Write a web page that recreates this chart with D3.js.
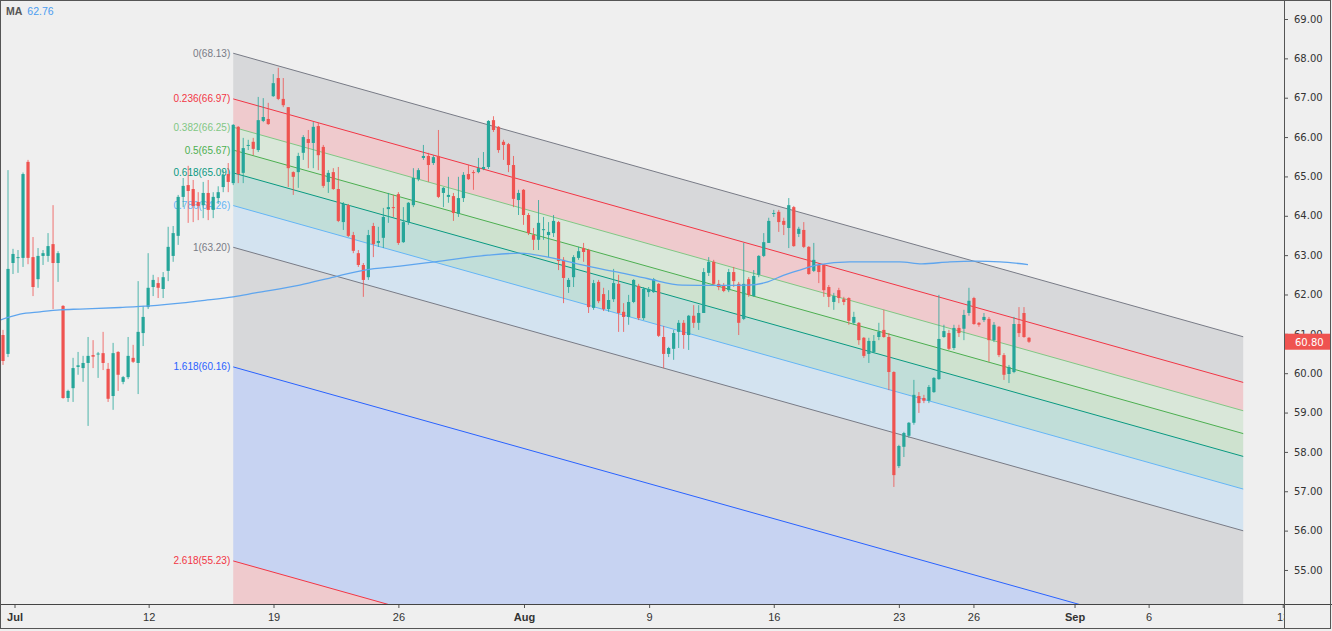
<!DOCTYPE html>
<html><head><meta charset="utf-8">
<script src="https://cdn.jsdelivr.net/npm/d3@7"></script>
<style>html,body{margin:0;padding:0;background:#efefef;overflow:hidden}</style>
</head><body><svg id="c" width="1332" height="631"></svg>
<script>
// ---------- DATA ----------
const opens = [
60.97,60.49,62.80,62.93,62.93,65.37,62.95,62.39,62.98,62.98,
63.28,62.80,61.71,59.37,59.62,60.16,60.13,60.26,60.46,60.48,
60.51,60.11,59.42,60.54,59.78,59.90,60.39,60.26,61.02,61.68,
62.19,62.29,62.14,62.60,62.98,63.49,64.48,64.78,64.68,64.35,
64.27,64.58,64.15,64.45,64.73,65.06,64.83,66.26,65.09,65.78,
65.88,65.67,66.41,66.46,67.04,67.50,66.97,66.76,65.11,65.11,
65.60,65.95,65.85,66.28,65.75,64.86,65.11,64.68,63.84,64.27,
63.51,63.05,62.75,62.44,63.74,63.31,63.44,64.17,64.22,64.55,
63.33,63.84,64.27,64.93,65.47,65.52,65.34,65.52,64.58,64.48,
64.50,64.05,64.45,65.06,65.11,65.11,65.19,65.24,66.43,66.26,
65.88,65.82,65.29,64.40,64.66,64.02,63.51,63.39,63.64,63.51,
63.56,63.84,62.88,62.19,62.44,62.93,63.18,63.13,61.66,62.32,
62.01,61.63,61.88,62.27,61.56,61.43,61.81,62.22,61.40,62.06,
62.06,62.27,60.92,60.49,60.62,61.05,61.28,60.97,61.46,61.28,
61.53,62.55,62.83,62.27,62.22,62.11,62.57,62.27,61.38,62.39,
61.96,62.50,62.98,63.31,64.05,64.10,63.87,63.69,64.22,63.54,
63.64,63.21,62.60,62.75,62.75,62.19,61.81,62.11,61.88,61.91,
61.28,61.28,60.90,60.49,60.54,60.92,61.10,60.92,60.03,57.64,
58.13,58.41,58.74,59.42,59.37,59.30,59.52,59.85,60.92,61.02,
60.64,61.15,61.13,61.53,61.91,61.28,61.35,61.38,60.84,61.18,
60.46,59.98,60.03,61.25,61.53,60.90];
const highs = [
61.10,65.16,63.16,63.13,65.10,65.42,63.46,63.18,63.13,63.56,
64.27,63.10,61.73,59.58,60.39,60.54,60.44,60.92,60.84,60.54,
61.05,60.26,60.77,60.56,59.93,60.92,60.72,62.34,61.71,63.05,
62.50,62.44,62.57,63.72,63.74,64.53,64.96,65.27,64.91,64.60,
64.86,64.91,64.60,64.75,65.16,65.34,66.33,66.28,65.98,65.93,
65.98,67.02,66.99,66.87,67.60,67.76,67.50,66.76,65.13,65.60,
66.05,66.18,66.38,66.36,65.80,65.16,65.21,65.24,64.35,64.30,
63.59,63.13,62.80,63.64,63.82,63.72,64.20,64.58,64.53,64.60,
64.22,64.35,65.21,65.21,65.80,65.60,65.54,66.18,64.73,64.99,
64.58,64.99,65.11,65.29,65.16,65.47,65.62,66.43,66.53,66.28,
65.93,65.85,65.52,64.66,64.68,64.07,63.69,64.40,63.97,63.84,
64.02,63.87,62.95,62.42,63.00,63.21,63.31,63.16,62.37,62.37,
62.17,62.11,62.65,62.50,61.78,61.99,62.39,62.27,62.19,62.19,
62.42,62.29,61.20,60.67,61.10,61.35,61.35,61.48,61.73,61.73,
62.67,62.95,62.88,62.37,62.29,62.65,62.70,62.32,63.31,62.44,
62.62,63.00,63.56,63.95,64.15,64.15,63.95,64.45,64.25,63.72,
63.84,63.23,63.31,62.80,62.77,62.24,62.04,62.17,61.94,61.93,
61.56,61.30,60.92,60.90,60.97,61.28,61.61,61.02,60.05,58.18,
58.51,58.76,59.83,59.52,59.45,59.70,59.90,61.99,61.23,61.10,
61.23,61.23,61.61,62.17,61.94,61.30,61.53,61.43,61.30,61.20,
60.51,60.21,61.43,61.68,61.68,60.92];
const lows = [
60.21,60.41,62.52,62.55,62.70,62.77,61.96,62.17,62.75,62.83,
61.63,62.32,59.35,59.27,59.27,59.96,59.78,58.66,60.13,59.88,
60.08,59.27,59.07,59.55,59.72,59.85,60.26,59.47,60.69,61.63,
61.96,61.91,61.91,62.34,62.83,63.26,64.22,63.82,63.84,63.89,
63.94,63.89,63.94,64.30,64.60,64.60,64.78,64.83,64.83,65.67,
65.54,65.62,66.38,66.31,67.02,66.94,66.76,64.73,64.53,64.71,
65.42,65.21,65.21,65.16,64.71,64.58,64.66,63.84,63.64,63.46,
63.05,62.70,61.94,62.37,62.95,63.21,63.18,63.82,63.97,63.26,
63.31,63.77,64.22,64.88,65.42,64.86,65.29,64.45,64.22,64.33,
63.87,63.97,64.35,64.91,64.66,65.08,65.16,65.19,66.13,65.60,
65.42,65.11,64.22,64.02,63.77,63.51,63.13,63.13,63.39,62.95,
63.46,62.62,61.78,62.04,62.19,62.88,62.83,61.53,61.61,61.78,
61.58,61.56,61.81,61.05,61.05,61.23,61.78,61.35,61.35,61.94,
62.04,60.92,60.13,60.41,60.34,60.64,60.62,60.59,61.15,61.10,
61.53,62.47,62.24,62.11,62.06,62.06,62.19,60.97,61.35,61.94,
61.94,62.44,62.95,63.31,63.97,63.59,63.51,63.18,63.21,63.46,
63.18,62.50,62.57,62.29,61.94,61.68,61.61,61.78,61.73,61.23,
61.23,60.72,60.39,60.26,60.51,60.84,60.90,59.57,57.11,57.59,
57.87,58.36,58.69,58.99,59.24,59.24,59.50,59.83,60.90,60.59,
60.59,60.92,60.84,61.46,61.23,61.18,61.30,60.29,60.79,60.41,
59.83,59.75,60.00,60.92,60.90,60.77];
const closes = [
60.31,62.65,63.03,62.95,65.06,62.93,62.19,62.98,63.05,63.23,
62.80,63.05,59.37,59.55,60.13,60.20,60.26,60.44,60.42,60.50,
60.26,59.35,60.51,59.96,59.90,60.44,60.29,61.05,61.43,62.17,
62.37,62.17,62.44,63.21,63.56,64.48,64.76,64.63,64.25,64.25,
64.58,64.15,64.48,64.60,65.04,64.86,66.31,65.06,65.72,65.80,
65.70,66.43,66.51,66.33,67.37,66.97,66.81,65.21,64.99,65.52,
66.00,65.85,66.26,65.54,64.76,65.09,64.68,63.87,64.30,63.49,
63.11,62.75,62.37,63.51,63.28,63.36,63.97,64.22,64.20,63.31,
63.84,64.33,64.96,65.16,65.52,65.29,65.49,64.48,64.71,64.53,
64.07,64.45,65.04,64.93,65.10,65.21,65.24,66.41,66.18,65.67,
65.80,65.29,64.43,64.58,64.02,63.56,63.39,63.82,63.66,63.59,
63.87,62.85,62.42,62.37,62.95,63.10,63.08,61.68,62.29,61.83,
61.63,61.86,62.29,61.53,61.43,61.81,62.37,61.40,62.14,62.14,
62.39,60.95,60.49,60.64,61.02,61.28,60.97,61.46,61.28,61.53,
62.57,62.83,62.27,62.19,62.09,62.57,62.34,61.28,62.27,61.99,
62.47,62.98,63.33,63.87,64.07,63.84,63.77,64.27,63.23,63.67,
63.21,62.52,62.88,62.57,62.11,61.94,61.96,61.91,61.81,61.33,
61.43,60.84,60.44,60.82,60.82,61.05,60.92,60.03,57.41,58.15,
58.48,58.74,59.45,59.24,59.30,59.65,59.88,60.87,61.07,60.62,
61.15,61.02,61.48,61.84,61.25,61.23,61.43,60.84,61.23,60.46,
59.96,60.16,61.25,61.02,60.92,60.80];

// moving average readings (bar position, value)
const maIdx = [-0.6,3.4,7.4,11.4,15.4,23.4,29.4,35.4,39.4,46,50.4,59.3,66.3,72.3,79.3,86.3,96.9,103.3,108.9,115.7,122.3,128.9,135.7,142.3,148.9,152.8,155.2,159.2,162.8,169.2,179.2,183.6,189.2,194.2,199.2,204.8];
const maVals = [61.35,61.50,61.56,61.61,61.63,61.67,61.71,61.78,61.84,61.94,62.04,62.24,62.45,62.62,62.72,62.83,63.00,63.05,62.95,62.75,62.58,62.40,62.24,62.23,62.24,62.32,62.45,62.62,62.75,62.83,62.83,62.78,62.83,62.85,62.83,62.76];

// Fibonacci channel
const fibLevels = [0, 0.236, 0.382, 0.5, 0.618, 0.786, 1, 1.618, 2.618, 3.618];
const fibPrices = [68.13, 66.97, 66.25, 65.67, 65.09, 64.26, 63.20, 60.16, 55.23, 50.29];
const fibColors = ["#787b86","#f23645","#81c784","#4caf50","#089981","#64b5f6","#787b86","#2962ff","#f23645","#9c27b0"];
const fibStartBar = 46, fibEndBar = 247.8, fibSlope = -0.0357; // price per bar

// axes
const yTicks = [55,56,57,58,59,60,61,62,63,64,65,66,67,68,69];
const xTickLabels = ["Jul","12","19","26","Aug","9","16","23","26","Sep","6","13"];
const xTickBars = [2.3,29.1,54.05,79.0,104.1,129.1,154.0,179.0,193.9,214.1,228.9,255.7];
const lastPrice = 60.80, maLast = 62.76;

// ---------- DRAW ----------
const W = 1332, H = 631, paneR = 1284, paneB = 604;
const svg = d3.select("#c");
const x = d3.scaleLinear().domain([0, 205]).range([3, 1029]);
const y = d3.scaleLinear().domain([54.11, 69.483]).range([605, 0]);

svg.append("rect").attr("width", W).attr("height", H).attr("fill", "#efefef");
const defs = svg.append("defs");
defs.append("clipPath").attr("id", "pane").append("rect").attr("x", 0).attr("y", 0).attr("width", paneR).attr("height", paneB);
defs.append("clipPath").attr("id", "xax").append("rect").attr("x", 0).attr("y", paneB).attr("width", paneR).attr("height", H - paneB);

const pane = svg.append("g").attr("clip-path", "url(#pane)");
const fp = (k, bar) => fibPrices[k] + fibSlope * (bar - fibStartBar);

// band fills
for (let k = 0; k < fibLevels.length - 1; k++) {
  const pts = [
    [x(fibStartBar), y(fp(k, fibStartBar))],
    [x(fibEndBar), y(fp(k, fibEndBar))],
    [x(fibEndBar), y(fp(k + 1, fibEndBar))],
    [x(fibStartBar), y(fp(k + 1, fibStartBar))]
  ];
  pane.append("path").attr("d", d3.line()(pts) + "Z")
    .attr("fill", fibColors[k]).attr("fill-opacity", 0.2);
}
// level lines + labels
for (let k = 0; k < fibLevels.length - 1; k++) {
  pane.append("line")
    .attr("x1", x(fibStartBar)).attr("y1", y(fp(k, fibStartBar)))
    .attr("x2", x(fibEndBar)).attr("y2", y(fp(k, fibEndBar)))
    .attr("stroke", fibColors[k]).attr("stroke-width", 1);
  pane.append("text")
    .attr("x", x(fibStartBar) - 3).attr("y", y(fp(k, fibStartBar)) + 3.5)
    .attr("text-anchor", "end")
    .attr("font-family", "'Liberation Sans Narrow', 'Liberation Sans', sans-serif")
    .attr("font-size", 10).attr("fill", fibColors[k])
    .text(fibLevels[k] + "(" + fibPrices[k].toFixed(2) + ")");
}

// candles
const idx = d3.range(opens.length);
const up = i => closes[i] >= opens[i];
const cg = pane.append("g");
cg.selectAll("line.w").data(idx).join("line")
  .attr("x1", i => x(i)).attr("x2", i => x(i))
  .attr("y1", i => y(highs[i])).attr("y2", i => y(lows[i]))
  .attr("stroke", i => up(i) ? "#26a69a" : "#ef5350").attr("stroke-width", 1).attr("stroke-opacity", 0.8);
cg.selectAll("rect.b").data(idx).join("rect")
  .attr("x", i => x(i) - 1.6).attr("width", 3.2)
  .attr("y", i => y(Math.max(opens[i], closes[i])))
  .attr("height", i => Math.max(1, Math.abs(y(opens[i]) - y(closes[i]))))
  .attr("fill", i => up(i) ? "#26a69a" : "#ef5350");

// MA
pane.append("path")
  .attr("d", d3.line().x((d, i) => x(maIdx[i])).y(d => y(d)).curve(d3.curveMonotoneX)(maVals))
  .attr("fill", "none").attr("stroke", "#5ea5ee").attr("stroke-width", 1.3);

// MA legend
const leg = svg.append("text").attr("x", 6).attr("y", 15)
  .attr("font-family", "'Liberation Sans Narrow', 'Liberation Sans', sans-serif").attr("font-size", 10.5);
leg.append("tspan").attr("fill", "#555").attr("font-weight", "bold").text("MA");
leg.append("tspan").attr("dx", 5).attr("fill", "#4a9cf0").text(maLast.toFixed(2));

// Y axis
const ya = svg.append("g").attr("transform", `translate(${paneR},0)`)
  .call(d3.axisRight(y).tickValues(yTicks).tickFormat(d3.format(".2f")).tickSize(4).tickPadding(6));
ya.select(".domain").remove();
ya.selectAll("line").attr("stroke", "#555");
ya.selectAll("text").attr("font-family", "'DejaVu Sans', sans-serif").attr("font-size", 10).attr("fill", "#333");

// last price tag (drawn over the 61.00 label, as in the source)
const ly = y(lastPrice);
svg.append("rect").attr("x", paneR + 1).attr("y", ly - 8).attr("width", 46).attr("height", 16).attr("fill", "#ef5350");
svg.append("text").attr("x", paneR + 11).attr("y", ly + 4)
  .attr("font-family", "'DejaVu Sans', sans-serif").attr("font-size", 10).attr("fill", "#fff")
  .text(lastPrice.toFixed(2));

// X axis
const xa = svg.append("g").attr("clip-path", "url(#xax)").append("g").attr("transform", `translate(0,${paneB})`)
  .call(d3.axisBottom(x).tickValues(xTickBars).tickFormat((d, i) => xTickLabels[i]).tickSize(4).tickPadding(5));
xa.select(".domain").remove();
xa.selectAll("line").attr("stroke", "#555");
xa.selectAll("text")
  .attr("font-family", "'Liberation Sans Narrow', 'Liberation Sans', sans-serif").attr("font-size", 11).attr("fill", "#333")
  .attr("font-weight", (d, i) => /^[A-Z]/.test(xTickLabels[i]) ? "bold" : "normal");

// frame lines
svg.append("line").attr("x1", 0).attr("x2", W).attr("y1", paneB + 0.5).attr("y2", paneB + 0.5).attr("stroke", "#444");
svg.append("line").attr("x1", paneR + 0.5).attr("x2", paneR + 0.5).attr("y1", 0).attr("y2", H - 2).attr("stroke", "#555");
svg.append("rect").attr("x", 0.5).attr("y", 0.5).attr("width", W - 2).attr("height", H - 3)
  .attr("fill", "none").attr("stroke", "#555");
</script></body></html>
